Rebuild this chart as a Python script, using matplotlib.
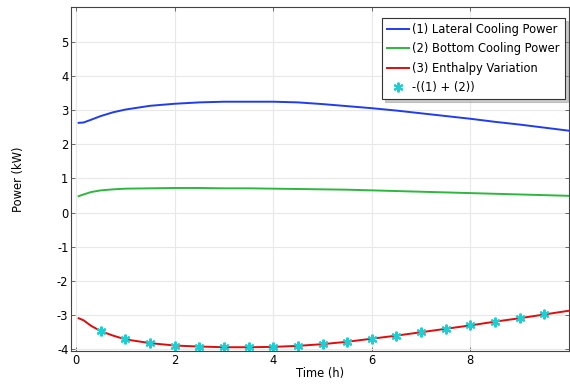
import numpy as np
import matplotlib
matplotlib.use("Agg")
import matplotlib.pyplot as plt

# values
time_h = [0.05, 0.15, 0.3, 0.5, 0.75, 1.0, 1.5, 2.0, 2.5, 3.0, 3.5, 4.0, 4.5, 5.0,
          5.5, 6.0, 6.5, 7.0, 7.5, 8.0, 8.5, 9.0, 9.5, 10.0]
lateral_kw = [2.63, 2.64, 2.72, 2.83, 2.94, 3.02, 3.13, 3.19, 3.23, 3.25, 3.25, 3.25,
              3.23, 3.18, 3.12, 3.06, 2.99, 2.91, 2.83, 2.75, 2.66, 2.58, 2.49, 2.40]
bottom_kw = [0.48, 0.53, 0.60, 0.65, 0.68, 0.70, 0.71, 0.72, 0.72, 0.71, 0.71, 0.70,
             0.69, 0.68, 0.67, 0.65, 0.63, 0.61, 0.59, 0.57, 0.55, 0.53, 0.51, 0.49]
enthalpy_kw = [-3.10, -3.16, -3.32, -3.48, -3.61, -3.72, -3.83, -3.90, -3.93, -3.95,
               -3.95, -3.94, -3.91, -3.86, -3.79, -3.70, -3.61, -3.51, -3.41, -3.31,
               -3.20, -3.10, -2.99, -2.88]
marker_time_h = [0.5, 1.0, 1.5, 2.0, 2.5, 3.0, 3.5, 4.0, 4.5, 5.0, 5.5, 6.0, 6.5, 7.0,
                 7.5, 8.0, 8.5, 9.0, 9.5]
marker_kw = [-3.48, -3.72, -3.83, -3.90, -3.93, -3.95, -3.95, -3.94, -3.91, -3.86,
             -3.79, -3.70, -3.61, -3.51, -3.41, -3.31, -3.20, -3.10, -2.99]

plt.rcParams["font.family"] = ["DejaVu Sans"]
plt.rcParams["font.size"] = 8.3
plt.rcParams["axes.unicode_minus"] = False

figure, axes = plt.subplots(figsize=(5.7, 3.84), dpi=100)
figure.subplots_adjust(left=0.125, right=0.998, top=0.982, bottom=0.086)

axes.plot(time_h, lateral_kw, color="#1f3cf0", linewidth=1.4, label="(1) Lateral Cooling Power")
axes.plot(time_h, bottom_kw, color="#2db83d", linewidth=1.4, label="(2) Bottom Cooling Power")
axes.plot(time_h, enthalpy_kw, color="#e00c0c", linewidth=1.4, label="(3) Enthalpy Variation")
axes.plot(marker_time_h, marker_kw, linestyle="none", marker=(6, 2, 0), markersize=7,
          markeredgewidth=1.5, color="#1ccfd2", label="-((1) + (2))")

axes.set_xlim(-0.1, 10.0)
axes.set_ylim(-4.06, 6.03)
axes.set_xticks([0, 2, 4, 6, 8])
axes.set_yticks(range(-4, 6))
axes.tick_params(direction="in", length=3, width=0.6, color="#555555",
                 top=True, right=True, pad=2)
axes.grid(True, color="#e8e8e8", linewidth=0.8)
axes.set_axisbelow(True)
for spine in axes.spines.values():
    spine.set_color("#444444")
    spine.set_linewidth(0.8)

axes.set_xlabel("Time (h)", labelpad=0)
axes.set_ylabel("Power (kW)", labelpad=23)

legend = axes.legend(loc="upper right", bbox_to_anchor=(0.997, 0.975), fancybox=False,
                     shadow={"color": "#999999"}, framealpha=1, edgecolor="#333333",
                     fontsize=8.3, handlelength=1.9, handletextpad=0.3, borderpad=0.45,
                     labelspacing=0.55, borderaxespad=0.2)
legend.get_frame().set_linewidth(0.8)

figure.savefig("out.png", dpi=100)
plt.close(figure)
